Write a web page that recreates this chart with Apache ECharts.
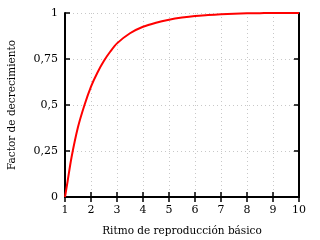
<!DOCTYPE html>
<html><head><meta charset="utf-8">
<script src="https://cdn.jsdelivr.net/npm/echarts@6/dist/echarts.min.js"></script>
<style>html,body{margin:0;padding:0;background:#fff}#c{width:320px;height:240px}</style>
</head><body><div id="c"></div>
<script>
const R0 = [1, 1.1, 1.25, 1.5, 1.75, 2, 2.25, 2.5, 2.75, 3, 3.5, 4, 4.5, 5, 5.5, 6, 6.5, 7, 7.5, 8, 8.5, 9, 9.5, 10];
const factor = [0, 0.085, 0.215, 0.38, 0.5, 0.6, 0.677, 0.74, 0.792, 0.835, 0.89, 0.925, 0.947, 0.963, 0.975, 0.984, 0.989, 0.993, 0.996, 0.998, 0.999, 1, 1, 1];
const yTicks = {0: '0', 0.25: '0,25', 0.5: '0,5', 0.75: '0,75', 1: '1'};
const font = 'DejaVu Serif';
const chart = echarts.init(document.getElementById('c'), null, {renderer: 'canvas'});
const axisLine = {show: true, lineStyle: {color: '#000', width: 2}};
const tick = {show: true, inside: true, length: 5, lineStyle: {color: '#000', width: 1.5}};
const grid = {show: true, lineStyle: {color: '#c8c8c8', type: [1, 3], width: 1}};
chart.setOption({
  animation: false,
  grid: {left: 65, right: 21, top: 13, bottom: 43, outerBoundsMode: 'none', containLabel: false},
  xAxis: [{
    type: 'value', min: 1, max: 10, interval: 1, position: 'bottom',
    name: 'Ritmo de reproducción básico', nameLocation: 'middle', nameGap: 29,
    nameTextStyle: {fontFamily: font, fontSize: 10.5, color: '#000'},
    axisLine, axisTick: tick,
    axisLabel: {fontFamily: font, fontSize: 11, color: '#000', margin: 8},
    splitLine: grid
  }, {
    type: 'value', min: 1, max: 10, interval: 1, position: 'top',
    axisLine, axisTick: tick, axisLabel: {show: false}, splitLine: {show: false}
  }],
  yAxis: [{
    type: 'value', min: 0, max: 1, interval: 0.25, position: 'left',
    name: 'Factor de decrecimiento', nameLocation: 'middle', nameGap: 47,
    nameTextStyle: {fontFamily: font, fontSize: 10.5, color: '#000'},
    axisLine, axisTick: tick,
    axisLabel: {fontFamily: font, fontSize: 11, color: '#000', margin: 7,
      formatter: v => yTicks[v] !== undefined ? yTicks[v] : ''},
    splitLine: grid
  }, {
    type: 'value', min: 0, max: 1, interval: 0.25, position: 'right',
    axisLine, axisTick: tick, axisLabel: {show: false}, splitLine: {show: false}
  }],
  series: [{
    type: 'line', smooth: 0.3, showSymbol: false, clip: false,
    lineStyle: {color: '#ff0000', width: 2},
    data: R0.map((r, i) => [r, factor[i]])
  }]
});
</script></body></html>
